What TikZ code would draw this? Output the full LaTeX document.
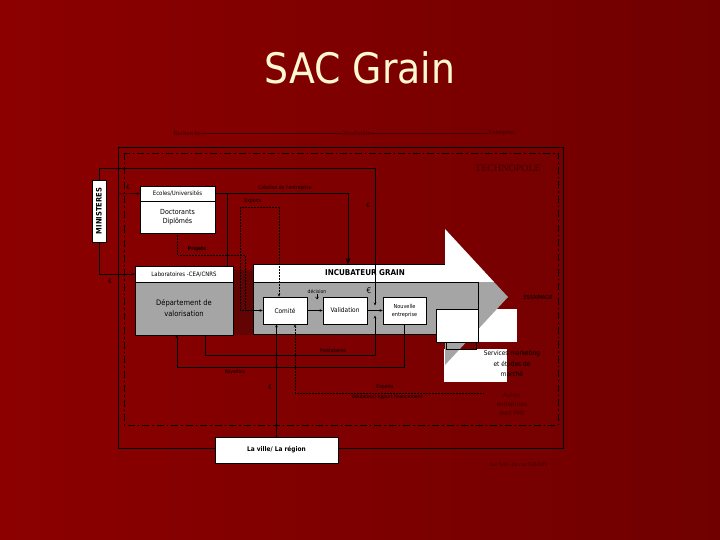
\documentclass[tikz,border=0pt]{standalone}
\usepackage{fontspec}
\setmainfont{DejaVu Sans}[FakeStretch=0.9]
\newfontfamily\serf{Liberation Serif}
\usepackage{xcolor}
\usetikzlibrary{arrows.meta,calc}
\definecolor{bgl}{RGB}{140,0,0}
\definecolor{bgr}{RGB}{112,0,0}
\definecolor{titlec}{RGB}{255,248,210}
\definecolor{inkred}{RGB}{62,0,0}
\definecolor{boxgrey}{RGB}{165,165,165}
\definecolor{strip}{RGB}{98,4,4}

\begin{document}
\begin{tikzpicture}[x=1pt,y=-1pt,line width=0.5pt,every node/.style={font=\fontsize{6}{7}\selectfont,inner sep=0pt,align=center},box/.style={draw=black,fill=white},gbox/.style={draw=black,fill=boxgrey},lbl/.style={text=black,font=\fontsize{5}{6}\selectfont},faint/.style={text=inkred,font=\serf\fontsize{6.5}{8}\selectfont},tip/.style={-{Stealth[length=3pt,width=2.5pt]}},dots/.style={densely dotted}]
\useasboundingbox (0,0) rectangle (720,540);
\shade[left color=bgl,right color=bgr] (0,0) rectangle (720,540);
\node[text=titlec,font=\fontsize{42}{48}\selectfont] (title) at (360,68) {SAC Grain};
% phases
\node[faint] (rech) at (187,133) {Recherche};
\node[faint] (incu) at (357,133) {Incubation};
\node[faint] (entr) at (502,133) {Entreprise};
\draw[inkred,line width=0.3pt] (rech.east) -- (incu.west) (incu.east) -- (entr.west);
% frames
\draw (118,147) rectangle (563,448);
\draw[dash pattern=on 7pt off 3pt on 1.5pt off 3pt] (124,153) rectangle (558,425);
\node[faint,font=\serf\fontsize{10}{12}\selectfont] (techno) at (508,168) {TECHNOPOLE};
\fill[strip] (233,270) rectangle (253,335);
% incubator arrow and boxes under it
\fill[white] (478,309) rectangle (517,342);
\fill[white] (444,349) rectangle (507,382);
\fill[white] (253,264) -- (445,264) -- (445,229) -- (494,282) -- (253,282) -- cycle;
\fill[boxgrey] (253,282) -- (494,282) -- (508,297) -- (445,365) -- (445,334) -- (253,334) -- cycle;
\draw (253,264) -- (445,264) (253,264) -- (253,334) -- (445,334);
\draw (253,282) -- (478,282) -- (478,309);
\filldraw[fill=white] (436,309) rectangle (478,342);
\draw (446,342) rectangle (476,349);
\node[font=\bfseries\fontsize{8}{10}\selectfont] (inct) at (365,273) {INCUBATEUR GRAIN};
\coordinate (inctop) at (253,264);
\coordinate (jn) at (375,310.5);
% boxes
\node[box,minimum width=14pt,minimum height=62pt] (min) at (99,211) {};
\node[rotate=90,font=\bfseries\fontsize{7.5}{9}\selectfont] (mintxt) at (min.center) {MINISTERES};
\node[box,minimum width=75pt,minimum height=15pt] (ecoh) at (177.5,193.5) {Ecoles/Universités};
\node[box,minimum width=75pt,minimum height=32pt,font=\fontsize{7}{9}\selectfont] (ecob) at (177.5,217) {Doctorants\\Diplômés};
\node[box,minimum width=98pt,minimum height=16pt] (labh) at (184,274) {Laboratoires -CEA/CNRS};
\node[gbox,minimum width=98pt,minimum height=53pt,font=\fontsize{7.5}{11}\selectfont] (labb) at (184,308.5) {Département de\\valorisation};
\node[box,minimum width=44pt,minimum height=27pt,font=\fontsize{6.5}{8}\selectfont] (comite) at (285,310.5) {Comité};
\node[box,minimum width=44pt,minimum height=27pt,font=\fontsize{6.5}{8}\selectfont] (valid) at (345,310.5) {Validation};
\node[box,minimum width=43pt,minimum height=27pt,font=\fontsize{5.5}{8}\selectfont] (nouv) at (404.5,310.5) {Nouvelle\\entreprise};
\node[box,minimum width=123pt,minimum height=26pt,font=\bfseries\fontsize{6.5}{8}\selectfont] (ville) at (276.5,450) {La ville/ La région};
% flows
\coordinate (ctop) at (375,168);
\draw[tip] (min.north) |- (ctop) -- ($(jn)+(0,-5)$);
\node[lbl,font=\fontsize{6}{7}\selectfont] (eur1) at (368,205) {€};
\draw[tip] (min.south) |- (labh.west);
\node[lbl,font=\fontsize{6}{7}\selectfont] (eur2) at (110,281) {€};
\coordinate (ein) at (119,194);
\draw[tip] (ein) -- (ecoh.west);
\node[lbl,font=\fontsize{6}{7}\selectfont] (eur3) at (128,187) {€};
\draw[-{Stealth[length=6pt,width=5pt]}] (ecoh.east) -| ($(inctop)+(95,0)$);
\draw ($(labh.north east)+(-6,0)$) |- (ecoh.east);
\node[lbl] (creat) at (285,188.5) {Création de l'entreprise};
\coordinate (exa) at (240,207);
\node[lbl] (exp1) at (253,201) {Experts};
\draw[dots,tip] (exa) -| ($(comite.north)+(-6,0)$);
\draw[dots] (exa) |- (comite.west);
\coordinate (prj) at (245,255);
\node[lbl,font=\bfseries\fontsize{5}{6}\selectfont] (projets) at (197,249) {Projets};
\draw[dots,tip] (ecob.south) |- (prj) |- (comite.west);
\draw[tip] (comite) -- (valid);
\node[lbl] (dec) at (317,292) {décision};
\draw[-{Straight Barb[length=2pt,width=3pt]}] (dec.south) -- ++(0,5);
\draw[tip] (valid) -- (nouv);
\node[lbl,font=\fontsize{8}{9}\selectfont] (eur4) at (369,291) {€};
\coordinate (prs) at (375,355);
\draw[tip] ($(labb.south west)+(70,0)$) |- (prs) -- ($(jn)+(0,5)$);
\node[lbl] (prest) at (333,351) {Prestataires};
\draw[tip] (nouv.south) |- ($(labb.south west)+(42,32)$) -- ($(labb.south west)+(42,0)$);
\node[lbl] (roy) at (235,372) {Royalties};
\draw[tip] (ville.north) -- (ville.north |- comite.south);
\node[lbl,font=\fontsize{6}{7}\selectfont] (eur5) at (270,387) {€};
\coordinate (exb) at (483,393);
\draw[dots,tip] (exb) -| ($(comite.south)+(10,0)$);
\node[lbl] (exp2) at (385,387) {Experts};
\node[lbl] (vali) at (387,397) {Validateur/ Apport financement};
% spin-off side
\node[lbl,font=\fontsize{5.5}{6.5}\selectfont] (essai) at (538,297) {ESSAIMAGE};
\node[font=\fontsize{6.5}{10.5}\selectfont] (serv) at (512,364) {Services marketing\\et études de\\marché};
\node[lbl,text=inkred,font=\fontsize{6}{9}\selectfont] (autres) at (512,404) {Autres\\entreprises\\dont PME};
\node[faint,font=\serf\fontsize{6}{7}\selectfont] (src) at (519,464) {Le SAC du cas GRAIN};
\end{tikzpicture}
\end{document}
